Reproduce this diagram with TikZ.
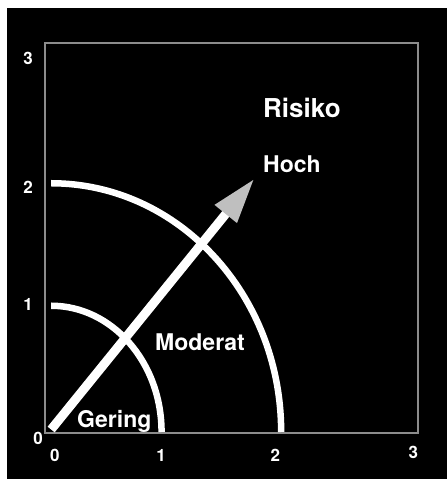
\documentclass[tikz,border=0pt]{standalone}
\usepackage{fontspec}
\setmainfont{TeX Gyre Heros}
\usetikzlibrary{arrows.meta}

\begin{document}
\begin{tikzpicture}[
  x=115pt,y=125pt,
  font=\bfseries,
  lbl/.style={text=white, inner sep=0pt, anchor=base west, font=\fontsize{23}{27}\selectfont\bfseries},
  ticklab/.style={text=white, inner sep=0pt, font=\fontsize{17}{20}\selectfont\bfseries},
  ring/.style={draw=white, line width=6.5pt},
  risk/.style={draw=white, line width=9pt, -{Triangle[length=46pt,width=26pt,color=white!75!black]}},
]

%% ---------- BACKGROUND ----------
\useasboundingbox (-0.4348,-0.376) rectangle (3.4522,3.456);
\fill[black] (-0.374,-0.376) rectangle (3.4522,3.392);
\draw[draw=white!55!black, line width=2.5pt] (-0.0435,-0.008) rectangle (3.2,3.112);

%% ---------- AXIS NUMBERS ----------
\foreach \i/\xx in {0/0.043,1/0.965,2/1.96}
  \node[ticklab] (xt\i) at (\xx,-0.184) {\i};
\node[ticklab] (xt3) at (3.16,-0.16) {3};
\foreach \i/\yy in {1/1.02,2/1.96,3/2.99}
  \node[ticklab] (yt\i) at (-0.19,\yy) {\i};
\node[ticklab] (yt0) at (-0.104,-0.048) {0};

%% ---------- RINGS ----------
\draw[ring] (0.01,1.01) arc[start angle=90,end angle=0,x radius=0.96,y radius=1.01];
\draw[ring] (0.01,1.99) arc[start angle=90,end angle=0,x radius=2.0,y radius=1.99];

%% ---------- ARROW ----------
\coordinate (o) at (0.01,0.02);
\coordinate (tip) at (1.78,2.03);
\draw[risk] (o) -- (tip);

%% ---------- LABELS ----------
\node[lbl, font=\fontsize{26}{30}\selectfont\bfseries] (risiko) at (1.852,2.512) {Risiko};
\node[lbl] (hoch) at (1.852,2.072) {Hoch};
\node[lbl] (moderat) at (0.913,0.648) {Moderat};
\node[lbl] (gering) at (0.235,0.032) {Gering};
\end{tikzpicture}
\end{document}
